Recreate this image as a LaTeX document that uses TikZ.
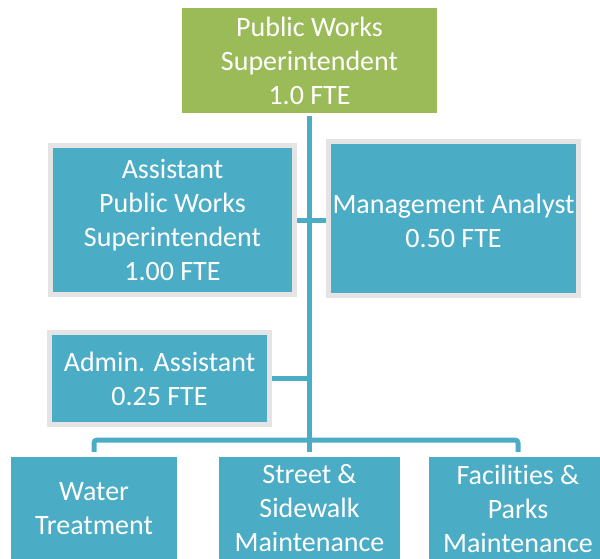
\documentclass[tikz,border=0pt]{standalone}
\usepackage{fontspec}
\setmainfont{Carlito}[Ligatures=NoCommon]
\usetikzlibrary{backgrounds}
\definecolor{pwblue}{HTML}{4BACC6}
\definecolor{pwgreen}{HTML}{9BBB59}
\definecolor{pwgray}{HTML}{E4E4E4}
\tikzset{
  boxtext/.style={text=white, inner sep=0pt, align=center,
    font=\fontsize{28}{34}\selectfont},
  box/.style={boxtext, fill=pwblue},
  framedbox/.style={box, draw=pwgray, line width=5pt},
  topbox/.style={box, fill=pwgreen},
  conn/.style={draw=pwblue, line width=5pt},
}
\begin{document}
\begin{tikzpicture}[x=1pt, y=-1pt]
\clip (0,0) rectangle (600,558);
\node[topbox, minimum width=255pt, minimum height=105pt] (top) at (309.5,60.5)
  {Public Works\\Superintendent\\1.0 FTE};
\node[framedbox, minimum width=244pt, minimum height=149pt] (asst) at (172.5,220)
  {Assistant\\Public Works\\Superintendent\\1.00 FTE};
\node[framedbox, minimum width=250pt, minimum height=154pt,
  label={[boxtext, yshift=-2pt]center:{Management Analyst\\0.50 FTE}}] (mgmt) at (453.5,218.5) {};
\node[framedbox, minimum width=220pt, minimum height=92pt] (admin) at (159.5,378.5)
  {Admin. Assistant\\0.25 FTE};
\node[box, minimum width=166pt, minimum height=103pt] (water) at (94,508.5)
  {Water\\Treatment};
\node[box, minimum width=181pt, minimum height=103pt] (street) at (309.5,508.5)
  {Street \&\\Sidewalk\\Maintenance};
\node[box, minimum width=178pt, minimum height=103pt] (fac) at (518,508.5)
  {Facilities \&\\Parks\\Maintenance};
\coordinate (bus) at (309.5,440);
\begin{pgfonlayer}{background}
  \draw[conn, shorten <=3pt] (top.south) -- (bus);
  \draw[conn] (asst.east) -- (asst.east -| mgmt.west);
  \draw[conn] (admin.east) -- (admin.east -| top.south);
  \draw[conn, rounded corners=3pt, shorten <=5pt, shorten >=5pt]
    (water.north) -- (water.north |- bus) -- (fac.north |- bus) -- (fac.north);
  \draw[conn, shorten <=5pt] (street.north) -- (bus);
\end{pgfonlayer}
\end{tikzpicture}
\end{document}
